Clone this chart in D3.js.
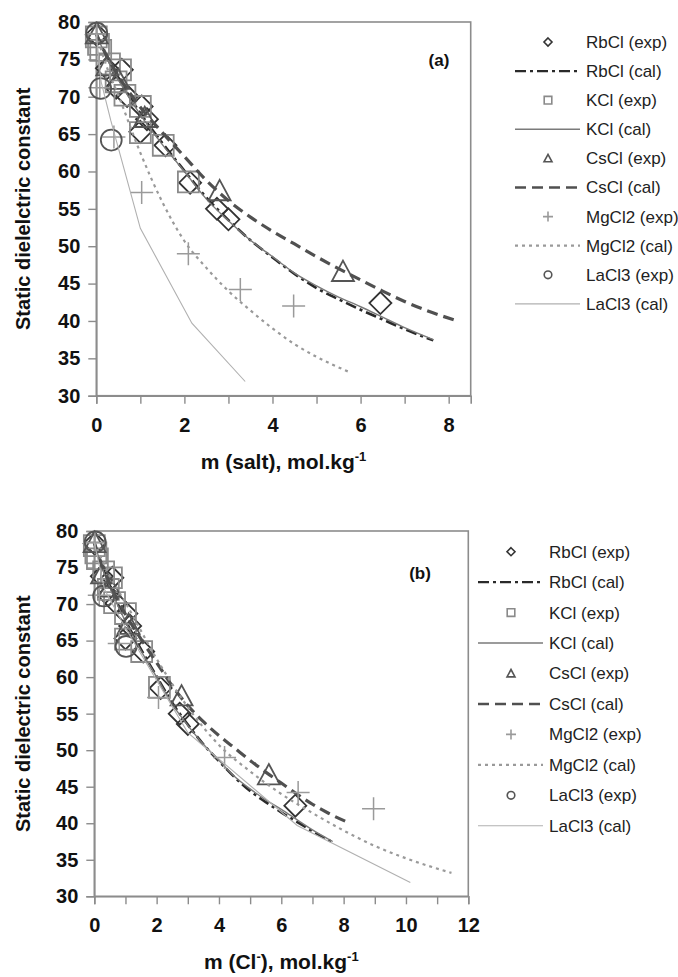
<!DOCTYPE html>
<html><head><meta charset="utf-8">
<script src="https://cdn.jsdelivr.net/npm/d3@7"></script>
<style>body{margin:0;background:#fff}svg{display:block}text{font-family:"Liberation Sans",Arial,sans-serif}</style>
</head><body><svg id="c" width="678" height="977"></svg>
<script>
// ---------- data (salt molality m, static dielectric constant) ----------
const salts = ["RbCl", "KCl", "CsCl", "MgCl2", "LaCl3"];
const chloridePerSalt = [1, 1, 1, 2, 3];
const yTicks = [30, 35, 40, 45, 50, 55, 60, 65, 70, 75, 80];
const xTicksA = [0, 1, 2, 3, 4, 5, 6, 7, 8];
const xTicksB = [0, 1, 2, 3, 4, 5, 6, 7, 8, 9, 10, 11, 12];

const rbclExpM = [0.01, 0.24, 0.58, 0.45, 0.70, 1.03, 1.15, 1.00, 1.57, 2.13, 2.74, 3.00, 6.45];
const rbclExpE = [78.3, 73.8, 73.6, 71.2, 70.1, 68.7, 67.0, 65.3, 63.5, 58.5, 55.0, 53.6, 42.4];
const kclExpM = [0.00, 0.05, 0.10, 0.30, 0.55, 0.45, 0.65, 1.00, 1.00, 1.52, 2.09];
const kclExpE = [78.0, 77.0, 76.2, 74.4, 73.6, 72.0, 70.2, 68.7, 65.2, 63.5, 58.6];
const csclExpM = [0.01, 0.25, 0.50, 1.10, 2.80, 5.60];
const csclExpE = [78.4, 74.1, 72.3, 67.2, 57.4, 46.6];
const mgcl2ExpM = [0.01, 0.08, 0.40, 1.03, 2.09, 3.27, 4.48];
const mgcl2ExpE = [78.4, 71.2, 64.6, 57.2, 49.0, 44.2, 42.0];
const lacl3ExpM = [0.01, 0.10, 0.34];
const lacl3ExpE = [78.5, 71.1, 64.2];

const rbclCalM = [0, 0.25, 0.5, 1, 1.5, 2, 2.5, 3, 3.5, 4, 4.5, 5, 5.5, 6, 6.5, 7, 7.65];
const rbclCalE = [78.4, 75.2, 72.5, 67.8, 63.8, 60.1, 56.5, 53.5, 50.8, 48.5, 46.3, 44.4, 42.9, 41.5, 40.2, 38.9, 37.4];
const kclCalM = [0, 0.25, 0.5, 1, 1.5, 2, 2.5, 3, 3.5, 4, 4.5, 5, 5.5, 6, 6.5, 7, 7.65];
const kclCalE = [78.4, 75.0, 72.3, 67.6, 63.6, 60.0, 56.3, 53.4, 50.8, 48.6, 46.4, 44.7, 43.2, 41.9, 40.5, 39.1, 37.5];
const csclCalM = [0, 0.25, 0.5, 1, 1.5, 2, 2.5, 3, 3.5, 4, 4.5, 5, 5.5, 6, 6.5, 7, 7.5, 8.2];
const csclCalE = [78.4, 75.3, 72.8, 68.6, 65.2, 62.0, 58.8, 56.1, 53.9, 52.0, 50.3, 48.6, 47.0, 45.5, 44.0, 42.6, 41.4, 40.0];
const mgcl2CalM = [0, 0.25, 0.5, 1, 1.5, 2, 2.5, 3, 3.5, 4, 4.5, 5, 5.73];
const mgcl2CalE = [78.4, 73.8, 70.2, 62.5, 55.9, 50.7, 47.1, 44.0, 41.4, 39.0, 36.9, 35.2, 33.2];
const lacl3CalM = [0, 0.11, 0.33, 1.0, 2.17, 3.38];
const lacl3CalE = [78.4, 72.0, 66.8, 52.4, 39.7, 31.9];

const expM = [rbclExpM, kclExpM, csclExpM, mgcl2ExpM, lacl3ExpM];
const expE = [rbclExpE, kclExpE, csclExpE, mgcl2ExpE, lacl3ExpE];
const calM = [rbclCalM, kclCalM, csclCalM, mgcl2CalM, lacl3CalM];
const calE = [rbclCalE, kclCalE, csclCalE, mgcl2CalE, lacl3CalE];

// ---------- styles ----------
const markerType = ["diamond", "square", "triangle", "cross", "circle"];
const markerColor = ["#333", "#8a8a8a", "#555", "#9a9a9a", "#555"];
const markerWidth = [1.8, 1.8, 1.8, 1.5, 1.8];
const lineColor = ["#2a2a2a", "#7a7a7a", "#505050", "#9a9a9a", "#b0b0b0"];
const lineWidth = [2.6, 1.4, 3.2, 2.2, 1.1];
const lineDash = ["11,4,3,4", null, "11,6", "3,4", null];
const lineCurve = [d3.curveMonotoneX, d3.curveMonotoneX, d3.curveMonotoneX, d3.curveMonotoneX, d3.curveLinear];

function markerPath(type, s) {
  const p = d3.path();
  if (type === "diamond") { p.moveTo(0, -s); p.lineTo(s, 0); p.lineTo(0, s); p.lineTo(-s, 0); p.closePath(); }
  else if (type === "square") { const h = s * 0.95; p.rect(-h, -h, 2 * h, 2 * h); }
  else if (type === "triangle") { p.moveTo(0, -s); p.lineTo(s, s * 0.85); p.lineTo(-s, s * 0.85); p.closePath(); }
  else if (type === "cross") { p.moveTo(-s, 0); p.lineTo(s, 0); p.moveTo(0, -s); p.lineTo(0, s); }
  else { p.moveTo(s * 0.95, 0); p.arc(0, 0, s * 0.95, 0, 2 * Math.PI); }
  return p.toString();
}

const svg = d3.select("#c");

const panels = [
  { left: 96.3, right: 470.7, top: 22, bottom: 395.7, xMax: 8.5, xTicks: xTicksA, useCl: false,
    ylabel: "Static dielelctric constant", xlabelPre: "m (salt), mol.kg", xlabelSupA: null, tag: "(a)", tagX: 439, tagY: 60,
    legX: 515, legY: 42, legDy: 29.1 },
  { left: 94.3, right: 468.3, top: 531, bottom: 896.3, xMax: 12, xTicks: xTicksB, useCl: true,
    ylabel: "Static dielectric constant", xlabelPre: "m (Cl", xlabelSupA: "-", tag: "(b)", tagX: 420, tagY: 573,
    legX: 478, legY: 551.7, legDy: 30.45 }
];

panels.forEach(P => {
  const x = d3.scaleLinear().domain([0, P.xMax]).range([P.left, P.right]);
  const y = d3.scaleLinear().domain([30, 80]).range([P.bottom, P.top]);
  const g = svg.append("g");

  // frame
  g.append("rect").attr("x", P.left).attr("y", P.top).attr("width", P.right - P.left).attr("height", P.bottom - P.top)
    .attr("fill", "none").attr("stroke", "#8c8c8c").attr("stroke-width", 1.6);

  // axes
  const ya = g.append("g").attr("transform", `translate(${P.left},0)`)
    .call(d3.axisLeft(y).tickValues(yTicks).tickSize(8).tickPadding(8).tickFormat(d3.format("d")));
  const xa = g.append("g").attr("transform", `translate(0,${P.bottom})`)
    .call(d3.axisBottom(x).tickValues(P.xTicks).tickSize(8).tickPadding(14).tickFormat(d => d % 2 === 0 ? d : ""));
  [ya, xa].forEach(a => {
    a.select(".domain").attr("stroke", "#8c8c8c").attr("stroke-width", 1.6);
    a.selectAll(".tick line").attr("stroke", "#8c8c8c").attr("stroke-width", 1.4);
    a.selectAll(".tick text").attr("font-size", 20).attr("font-weight", "bold").attr("fill", "#111")
      .attr("font-family", "'Liberation Sans', Arial, sans-serif");
  });

  // axis titles
  g.append("text").attr("transform", `translate(23,${(P.top + P.bottom) / 2}) rotate(-90)`)
    .attr("text-anchor", "middle").attr("dy", "0.35em").attr("font-size", 20).attr("font-weight", "bold").attr("fill", "#111")
    .text(P.ylabel);
  const xt = g.append("text").attr("x", (P.left + P.right) / 2).attr("y", P.bottom + 73)
    .attr("text-anchor", "middle").attr("font-size", 21).attr("font-weight", "bold").attr("fill", "#111");
  xt.append("tspan").text(P.xlabelPre);
  if (P.xlabelSupA) {
    xt.append("tspan").attr("dy", -8).attr("font-size", 13).text(P.xlabelSupA);
    xt.append("tspan").attr("dy", 8).text("), mol.kg");
  }
  xt.append("tspan").attr("dy", -8).attr("font-size", 13).text("-1");

  g.append("text").attr("x", P.tagX).attr("y", P.tagY).attr("dy", "0.35em").attr("text-anchor", "middle")
    .attr("font-size", 17).attr("font-weight", "bold").attr("fill", "#111").text(P.tag);

  // series
  salts.forEach((s, i) => {
    const k = P.useCl ? chloridePerSalt[i] : 1;
    const pts = expM[i].map((m, j) => [m * k, expE[i][j]]);
    g.append("g").selectAll("path").data(pts).join("path")
      .attr("transform", d => `translate(${x(d[0])},${y(d[1])})`)
      .attr("d", markerPath(markerType[i], markerType[i] === "cross" ? 11.5 : 11))
      .attr("fill", "none").attr("stroke", markerColor[i]).attr("stroke-width", markerWidth[i]);
    const cal = calM[i].map((m, j) => [m * k, calE[i][j]]);
    g.append("path").datum(cal)
      .attr("d", d3.line().x(d => x(d[0])).y(d => y(d[1])).curve(lineCurve[i]))
      .attr("fill", "none").attr("stroke", lineColor[i]).attr("stroke-width", lineWidth[i])
      .attr("stroke-dasharray", lineDash[i]);
  });

  // legend
  salts.forEach((s, i) => {
    const yExp = P.legY + P.legDy * (2 * i);
    const yCal = P.legY + P.legDy * (2 * i + 1);
    const mx = P.legX + 33;
    g.append("path").attr("transform", `translate(${mx},${yExp})`)
      .attr("d", markerPath(markerType[i], markerType[i] === "cross" ? 5 : 4))
      .attr("fill", "none").attr("stroke", markerColor[i]).attr("stroke-width", 1.6);
    g.append("line").attr("x1", P.legX).attr("x2", P.legX + 65).attr("y1", yCal).attr("y2", yCal)
      .attr("stroke", lineColor[i]).attr("stroke-width", Math.min(lineWidth[i], 2.4)).attr("stroke-dasharray", lineDash[i]);
    g.append("text").attr("x", P.legX + 71).attr("y", yExp).attr("dy", "0.35em").attr("font-size", 17).attr("fill", "#222").text(s + " (exp)");
    g.append("text").attr("x", P.legX + 71).attr("y", yCal).attr("dy", "0.35em").attr("font-size", 17).attr("fill", "#222").text(s + " (cal)");
  });
});
</script></body></html>
